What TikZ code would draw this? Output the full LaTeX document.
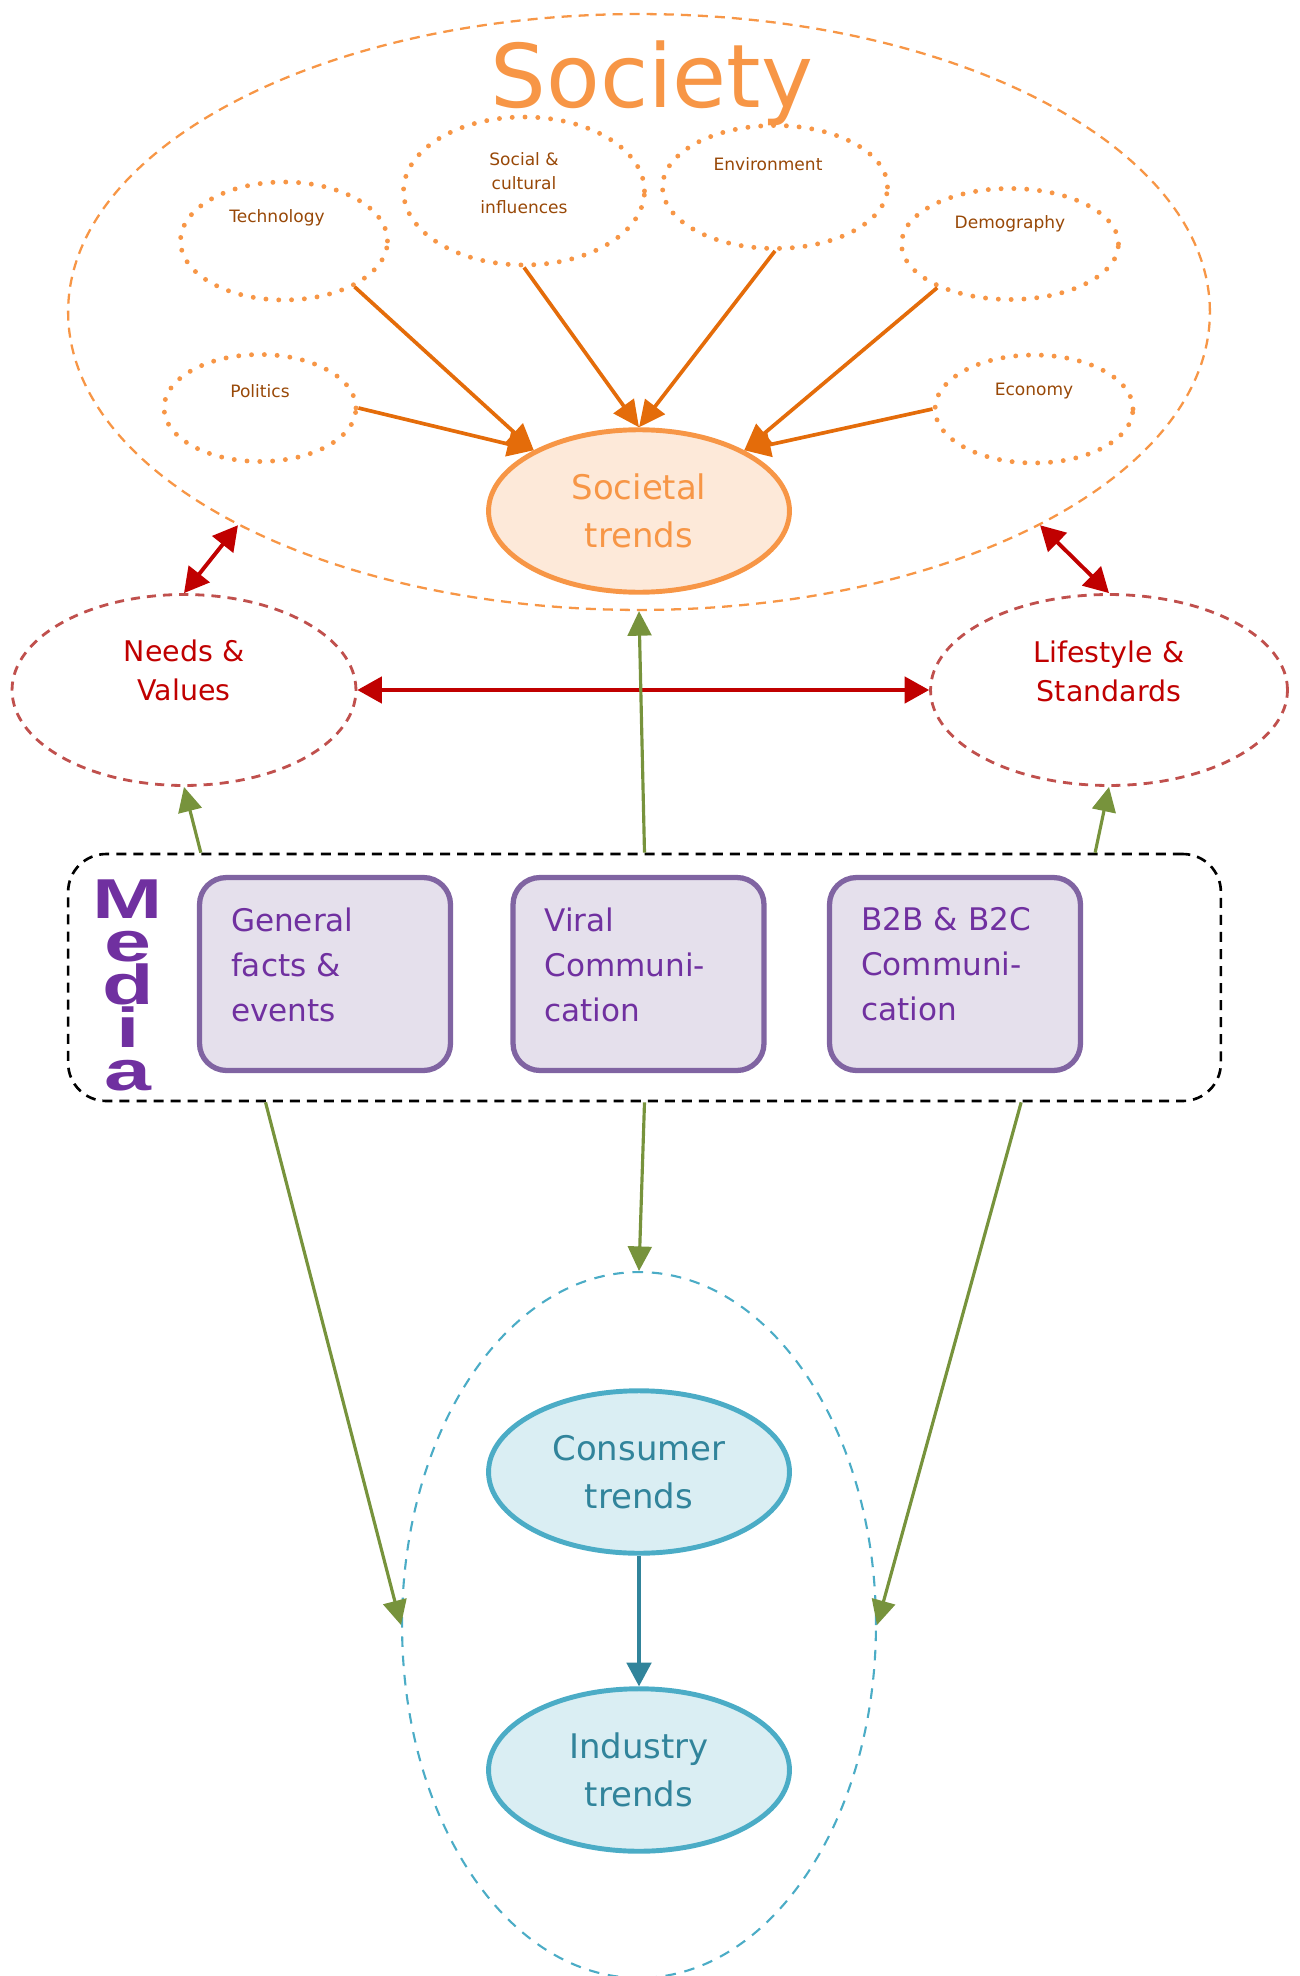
\documentclass[tikz,border=0pt]{standalone}
\usepackage{fontspec}
\setmainfont{DejaVu Sans}
\newfontfamily\mediafont[FakeStretch=1.5]{Liberation Sans Bold}
\usetikzlibrary{shapes.geometric,arrows.meta,calc}

\definecolor{socorange}{HTML}{F79646}
\definecolor{socfill}{HTML}{FDE9D9}
\definecolor{arrorange}{HTML}{E46C0A}
\definecolor{smallbrown}{HTML}{984807}
\definecolor{darkred}{HTML}{C00000}
\definecolor{needsred}{HTML}{C0504D}
\definecolor{mediagreen}{HTML}{77933C}
\definecolor{boxpurple}{HTML}{8064A2}
\definecolor{boxfill}{HTML}{E5E0EC}
\definecolor{boxtext}{HTML}{7030A0}
\definecolor{conblue}{HTML}{4BACC6}
\definecolor{confill}{HTML}{DAEEF3}
\definecolor{context}{HTML}{31849B}

\begin{document}
\begin{tikzpicture}[x=0.02cm,y=-0.02cm,
    smallell/.style={ellipse, draw=socorange, line width=2.8pt, line cap=round,
        dash pattern=on 0pt off 7.3pt, inner sep=0pt},
    smalltxt/.style={font=\fontsize{9.7}{13.7}\selectfont, text=smallbrown, align=center},
    trendell/.style={ellipse, line width=2.8pt, align=center, inner sep=0pt,
        minimum width=6.02cm, minimum height=3.25cm,
        font=\fontsize{19.3}{27.3}\selectfont},
    valueell/.style={ellipse, draw=needsred, line width=1.6pt,
        dash pattern=on 5.2pt off 4pt, minimum height=3.82cm, inner sep=0pt},
    valuetxt/.style={font=\fontsize{16.2}{22.2}\selectfont, text=darkred, align=center},
    mediabox/.style={rectangle, rounded corners=0.54cm, draw=boxpurple, fill=boxfill,
        line width=3pt, minimum width=5.02cm, minimum height=3.86cm, inner sep=0pt,
        text width=3.76cm, align=left, text=boxtext,
        font=\fontsize{17.7}{25.6}\selectfont,
        execute at end node={\rule[-11pt]{0pt}{0pt}}},
    orangearrow/.style={draw=arrorange, line width=2.1pt,
        -{Triangle[length=15pt,width=14pt]}},
    redarrow/.style={draw=darkred, line width=2.2pt,
        {Triangle[length=14pt,width=15pt]}-{Triangle[length=14pt,width=15pt]}},
    greenarrow/.style={draw=mediagreen, line width=1.8pt,
        -{Triangle[length=14pt,width=13.5pt]}},
    bluearrow/.style={draw=context, line width=1.9pt,
        -{Triangle[length=13.5pt,width=14pt]}}]

    \useasboundingbox (0,0) rectangle (1300,1976);

    % Society
    \node[ellipse, draw=socorange, line width=1.3pt, dash pattern=on 5.7pt off 4pt,
        minimum width=22.84cm, minimum height=11.92cm] (society) at (639,312) {};
    \node[font=\fontsize{50}{60}\selectfont, text=socorange, anchor=base] (soctitle) at (652,108) {Society};

    % Influences
    \node[smallell, minimum width=4.14cm, minimum height=2.36cm,
        label={[smalltxt,yshift=0.46cm,xshift=-0.14cm]center:Technology}] (tech) at (284,241) {};
    \node[smallell, minimum width=4.82cm, minimum height=2.96cm,
        label={[smalltxt,yshift=0.16cm]center:Social \&\\cultural\\influences}] (social) at (524,191) {};
    \node[smallell, minimum width=4.50cm, minimum height=2.46cm,
        label={[smalltxt,yshift=0.46cm,xshift=-0.14cm]center:Environment}] (env) at (775,187) {};
    \node[smallell, minimum width=4.34cm, minimum height=2.22cm,
        label={[smalltxt,yshift=0.40cm]center:Demography}] (demo) at (1010,244) {};
    \node[smallell, minimum width=3.84cm, minimum height=2.14cm,
        label={[smalltxt,yshift=0.34cm]center:Politics}] (pol) at (260,408) {};
    \node[smallell, minimum width=3.96cm, minimum height=2.16cm,
        label={[smalltxt,yshift=0.36cm]center:Economy}] (eco) at (1034,409) {};

    \node[trendell, draw=socorange, fill=socfill, text=socorange] (soc) at (639,511) {Societal\\trends};

    \foreach \from/\to in {tech.-33/soc.150, pol.east/soc.150, social.south/soc.north,
        env.south/soc.north, demo.-149/soc.30, eco.west/soc.30}
        \draw[orangearrow] (\from) -- (\to);

    % Values
    \node[valueell, minimum width=6.88cm,
        label={[valuetxt,yshift=0.40cm]center:Needs \&\\Values}] (needs) at (184,690) {};
    \node[valueell, minimum width=7.14cm,
        label={[valuetxt,yshift=0.38cm]center:Lifestyle \&\\Standards}] (life) at (1109,690) {};

    \draw[redarrow] (society.208) -- (needs.north);
    \draw[redarrow] (society.332) -- (life.north);
    \draw[redarrow] (needs.east) -- (life.west);

    % Media
    \node[draw, rounded corners=0.76cm, line width=1.5pt, dash pattern=on 5.7pt off 4pt,
        minimum width=23.06cm, minimum height=4.94cm] (media) at (644.5,977.5) {};
    \node[font=\mediafont\fontsize{32}{24.5}\selectfont, text=boxtext, align=center,
        inner sep=0pt, anchor=north] (mediaword) at (128,879) {M\\e\\d\\i\\a};

    \node[mediabox] (gen) at (325,974) {General\\facts \&\\events};
    \node[mediabox] (viral) at (638.5,974) {Viral\\Communi-\\cation};
    \node[mediabox] (b2b) at (955,974) {B2B \& B2C\\Communi-\\cation};

    % Consumer and industry
    \node[ellipse, draw=conblue, line width=1.2pt, dash pattern=on 6pt off 5pt,
        minimum width=9.48cm, minimum height=14.12cm] (market) at (639,1625) {};
    \node[trendell, draw=conblue, fill=confill, text=context] (cons) at (639,1472) {Consumer\\trends};
    \node[trendell, draw=conblue, fill=confill, text=context] (ind) at (639,1770) {Industry\\trends};

    \draw[greenarrow] ($(media.north west)!0.116!(media.north east)$) -- (needs.south);
    \draw[greenarrow] (media.north) -- (society.south);
    \draw[greenarrow] ($(media.north west)!0.89!(media.north east)$) -- (life.south);
    \draw[greenarrow] ($(media.south west)!0.172!(media.south east)$) -- (market.west);
    \draw[greenarrow] (media.south) -- (market.north);
    \draw[greenarrow] ($(media.south west)!0.826!(media.south east)$) -- (market.east);

    \draw[bluearrow] (cons.south) -- (ind.north);

\end{tikzpicture}
\end{document}
